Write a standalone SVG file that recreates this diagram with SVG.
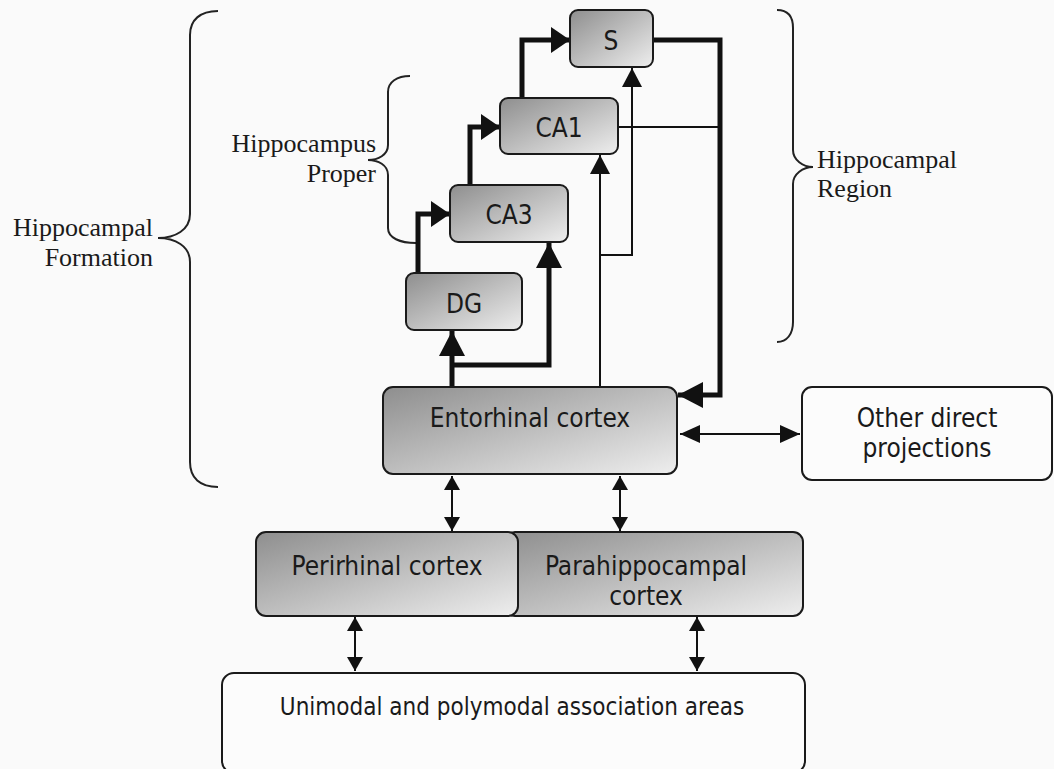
<svg xmlns="http://www.w3.org/2000/svg" width="1054" height="769" viewBox="0 0 1054 769">
<defs>
<linearGradient id="g" x1="0" y1="0" x2="1" y2="1">
<stop offset="0" stop-color="#8e8e8e"/>
<stop offset="1" stop-color="#eeeeee"/>
</linearGradient>
<marker id="big" markerUnits="userSpaceOnUse" markerWidth="26" markerHeight="28" refX="25" refY="13" orient="auto"><path d="M0,0 L25,13 L0,26 z" fill="#111"/></marker>
<marker id="med" markerUnits="userSpaceOnUse" markerWidth="20" markerHeight="28" refX="19" refY="13" orient="auto"><path d="M0,0 L19,13 L0,26 z" fill="#111"/></marker>
<marker id="thin" markerUnits="userSpaceOnUse" markerWidth="20" markerHeight="22" refX="19" refY="10" orient="auto"><path d="M0,0 L19,10 L0,20 z" fill="#111"/></marker>
<marker id="sm" markerUnits="userSpaceOnUse" markerWidth="16" markerHeight="18" refX="14" refY="8" orient="auto-start-reverse"><path d="M0,0 L14,8 L0,16 z" fill="#111"/></marker>
<marker id="smh" markerUnits="userSpaceOnUse" markerWidth="22" markerHeight="20" refX="20" refY="9" orient="auto-start-reverse"><path d="M0,0 L20,9 L0,18 z" fill="#111"/></marker>
</defs>
<style>
.box{fill:url(#g);stroke:#1a1a1a;stroke-width:2}
.wbox{fill:#fcfcfc;stroke:#1a1a1a;stroke-width:2}
.t{font-family:"DejaVu Sans Condensed","DejaVu Sans","Liberation Sans",sans-serif;font-size:26px;fill:#1a1a1a;text-anchor:middle}
.s{font-family:"Liberation Serif",serif;font-size:26px;fill:#1a1a1a}
.thick{fill:none;stroke:#111;stroke-width:5}
.thn{fill:none;stroke:#111;stroke-width:2}
.br{fill:none;stroke:#222;stroke-width:2}
</style>
<rect width="1054" height="769" fill="#fafafa"/>

<g id="braces">
<path class="br" d="M218,11 C200,11 190,20 190,35 V214 C190,230 175,238 158,238 C175,238 190,246 190,262 V462 C190,478 200,487 218,487"/>
<path class="br" d="M410,76 C397,76 388,82 388,92 V145 C388,155 378,160 368,160 C378,160 388,165 388,175 V228 C388,238 400,243 416,243"/>
<path class="br" d="M777,10 C787,10 793,16 793,28 V150 C793,160 803,167 813,167 C803,167 793,174 793,184 V322 C793,334 787,342 777,342"/>
<text class="s" x="153" y="236" text-anchor="end">Hippocampal</text>
<text class="s" x="153" y="266" text-anchor="end">Formation</text>
<text class="s" x="376" y="152" text-anchor="end">Hippocampus</text>
<text class="s" x="376" y="182" text-anchor="end">Proper</text>
<text class="s" x="817" y="168">Hippocampal</text>
<text class="s" x="817" y="197">Region</text>
</g>

<g id="connectors">
<path class="thick" d="M418,273 V214 H450" marker-end="url(#med)"/>
<path class="thick" d="M470,185 V127 H500" marker-end="url(#med)"/>
<path class="thick" d="M522,98 V40 H570" marker-end="url(#med)"/>
<path class="thick" d="M452,387 V331" marker-end="url(#big)"/>
<path class="thick" d="M452,365 H549 V243" marker-end="url(#big)"/>
<path class="thn" d="M600,387 V155" marker-end="url(#thin)"/>
<path class="thn" d="M600,255 H632 V68" marker-end="url(#thin)"/>
<path class="thick" d="M653,40 H720 V395 H678" marker-end="url(#big)"/>
<path class="thn" d="M618,127 H720"/>
<path class="thn" d="M680,434 H800" marker-start="url(#smh)" marker-end="url(#smh)"/>
<path class="thn" d="M452,476 V531" marker-start="url(#sm)" marker-end="url(#sm)"/>
<path class="thn" d="M620,476 V531" marker-start="url(#sm)" marker-end="url(#sm)"/>
<path class="thn" d="M355,617 V671" marker-start="url(#sm)" marker-end="url(#sm)"/>
<path class="thn" d="M697,617 V671" marker-start="url(#sm)" marker-end="url(#sm)"/>
</g>

<g id="S"><rect class="box" x="570" y="10" width="83" height="57" rx="8"/><text class="t" x="611" y="50">S</text></g>
<g id="CA1"><rect class="box" x="500" y="98" width="118" height="56" rx="8"/><text class="t" x="559" y="137">CA1</text></g>
<g id="CA3"><rect class="box" x="450" y="185" width="118" height="57" rx="8"/><text class="t" x="509" y="224">CA3</text></g>
<g id="DG"><rect class="box" x="406" y="273" width="116" height="57" rx="8"/><text class="t" x="464" y="313">DG</text></g>
<g id="EC"><rect class="box" x="383" y="387" width="294" height="87" rx="10"/><text class="t" x="530" y="427">Entorhinal cortex</text></g>
<g id="Other"><rect class="wbox" x="802" y="387" width="250" height="93" rx="10"/><text class="t" x="927" y="427">Other direct</text><text class="t" x="927" y="457">projections</text></g>
<g id="Parahippocampal"><rect class="box" x="505" y="532" width="298" height="84" rx="10"/><text class="t" x="646" y="575">Parahippocampal</text><text class="t" x="646" y="605">cortex</text></g>
<g id="Perirhinal"><rect class="box" x="256" y="532" width="262" height="84" rx="10"/><text class="t" x="387" y="575">Perirhinal cortex</text></g>
<g id="Unimodal"><rect class="wbox" x="222" y="673" width="583" height="100" rx="12"/><text class="t" x="512" y="715" style="font-size:24px">Unimodal and polymodal association areas</text></g>
</svg>
